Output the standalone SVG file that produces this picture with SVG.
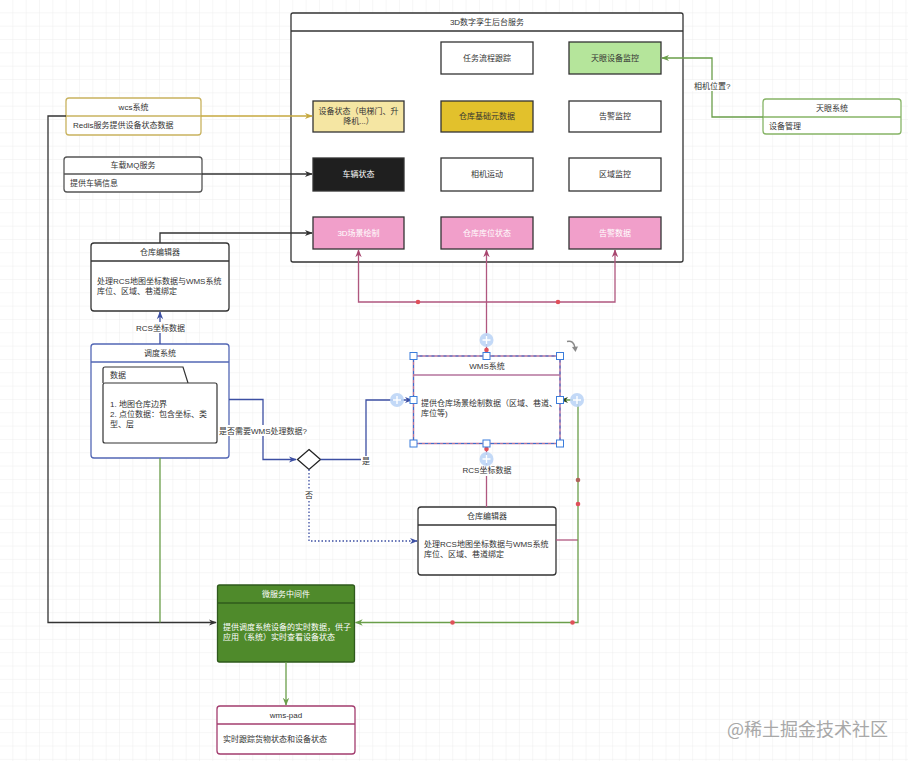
<svg xmlns="http://www.w3.org/2000/svg" width="908" height="761" viewBox="0 0 908 761">
<defs>
<pattern id="grid" width="13.33" height="13.33" patternUnits="userSpaceOnUse">
<path d="M13.33,0 V13.33 M0,13.33 H13.33" fill="none" stroke="#ebebeb" stroke-width="0.8"/>
</pattern>
<marker id="aK" viewBox="0 0 10 10" refX="9" refY="5" markerWidth="8" markerHeight="8" markerUnits="userSpaceOnUse" orient="auto"><path d="M0,1 L10,5 L0,9 L3,5 z" fill="#333"/></marker>
<marker id="aY" viewBox="0 0 10 10" refX="9" refY="5" markerWidth="8" markerHeight="8" markerUnits="userSpaceOnUse" orient="auto"><path d="M0,1 L10,5 L0,9 L3,5 z" fill="#c6a93f"/></marker>
<marker id="aG" viewBox="0 0 10 10" refX="9" refY="5" markerWidth="8" markerHeight="8" markerUnits="userSpaceOnUse" orient="auto"><path d="M0,1 L10,5 L0,9 L3,5 z" fill="#6a9e4a"/></marker>
<marker id="aGd" viewBox="0 0 10 10" refX="9" refY="5" markerWidth="8" markerHeight="8" markerUnits="userSpaceOnUse" orient="auto-start-reverse"><path d="M0,1 L10,5 L0,9 L3,5 z" fill="#2f4a22"/></marker>
<marker id="aB" viewBox="0 0 10 10" refX="9" refY="5" markerWidth="8" markerHeight="8" markerUnits="userSpaceOnUse" orient="auto"><path d="M0,1 L10,5 L0,9 L3,5 z" fill="#3c4fa3"/></marker>
<marker id="aP" viewBox="0 0 10 10" refX="9" refY="5" markerWidth="8" markerHeight="8" markerUnits="userSpaceOnUse" orient="auto"><path d="M0,1 L10,5 L0,9 L3,5 z" fill="#a8466f"/></marker>
<style>
.t{font-family:"Liberation Sans","Noto Sans CJK SC",sans-serif;font-size:8px;fill:#333}
.c{text-anchor:middle}
.w{fill:#fff}
.box{stroke:#333;stroke-width:1.3}
.e{fill:none;stroke-width:1.3}
.k{stroke:#333}
.y{stroke:#c6a93f}
.g{stroke:#6a9e4a}
.b{stroke:#3c4fa3}
.p{stroke:#b0577f}
.dot{fill:#e0505a}
.h{fill:#fff;stroke:#3b7ddb;stroke-width:1}
.plus{fill:#bcd5f6;opacity:0.9}
.pl{stroke:#fff;stroke-width:1.4}
.lbl{fill:#fff}
</style>
</defs>
<rect width="908" height="761" fill="#fff"/>
<rect width="908" height="761" fill="url(#grid)"/>

<!-- container -->
<g id="container">
<rect x="291" y="13" width="392" height="249" rx="2" fill="#fff" stroke="#333" stroke-width="1.3"/>
<line x1="291" y1="31" x2="683" y2="31" stroke="#333" stroke-width="1.3"/>
<text class="t c" x="487" y="25">3D数字孪生后台服务</text>
</g>
<g id="n-task"><rect class="box" x="441" y="42" width="92" height="32" fill="#fff"/><text class="t c" x="487" y="61">任务流程跟踪</text></g>
<g id="n-tianyan-mon"><rect class="box" x="569" y="42" width="92" height="32" fill="#b5e59b"/><text class="t c" x="615" y="61">天眼设备监控</text></g>
<g id="n-devstate"><rect class="box" x="313" y="101" width="91" height="31" fill="#f5e6a3" stroke="#555"/><text class="t c" x="358.5" y="114">设备状态（电梯门、升</text><text class="t c" x="358.5" y="124">降机...）</text></g>
<g id="n-meta"><rect class="box" x="441" y="101" width="92" height="31" fill="#e2c12c"/><text class="t c" x="487" y="119">仓库基础元数据</text></g>
<g id="n-alarm-mon"><rect class="box" x="569" y="101" width="92" height="31" fill="#fff"/><text class="t c" x="615" y="119">告警监控</text></g>
<g id="n-vehicle"><rect class="box" x="313" y="158" width="91" height="33" fill="#1f1f1f"/><text class="t c w" x="358.5" y="177">车辆状态</text></g>
<g id="n-camera"><rect class="box" x="441" y="158" width="92" height="33" fill="#fff"/><text class="t c" x="487" y="177">相机运动</text></g>
<g id="n-zone"><rect class="box" x="569" y="158" width="92" height="33" fill="#fff"/><text class="t c" x="615" y="177">区域监控</text></g>
<g id="n-3d"><rect class="box" x="313" y="217" width="91" height="32" fill="#f19fca"/><text class="t c w" x="358.5" y="236">3D场景绘制</text></g>
<g id="n-slot"><rect class="box" x="441" y="217" width="92" height="32" fill="#f19fca"/><text class="t c w" x="487" y="236">仓库库位状态</text></g>
<g id="n-alarm-data"><rect class="box" x="569" y="217" width="92" height="32" fill="#f19fca"/><text class="t c w" x="615" y="236">告警数据</text></g>

<!-- external nodes -->
<g id="n-wcs">
<rect x="66" y="98" width="135" height="37" rx="3" fill="#fff" stroke="#c9b35f" stroke-width="1.3"/>
<line x1="66" y1="116" x2="201" y2="116" stroke="#c9b35f" stroke-width="1.3"/>
<text class="t c" x="133.5" y="110">wcs系统</text>
<text class="t" x="73" y="128">Redis服务提供设备状态数据</text>
</g>
<g id="n-mq">
<rect x="64" y="157" width="138" height="35" rx="3" fill="#fff" stroke="#555" stroke-width="1.3"/>
<line x1="64" y1="174" x2="202" y2="174" stroke="#555" stroke-width="1.3"/>
<text class="t c" x="133" y="168">车载MQ服务</text>
<text class="t" x="70" y="186">提供车辆信息</text>
</g>
<g id="n-tianyan">
<rect x="763" y="99" width="138" height="35" rx="3" fill="#fff" stroke="#86b466" stroke-width="1.3"/>
<line x1="763" y1="117" x2="901" y2="117" stroke="#86b466" stroke-width="1.3"/>
<text class="t c" x="832" y="111">天眼系统</text>
<text class="t" x="769" y="129">设备管理</text>
</g>
<g id="n-editor1">
<rect x="91" y="243" width="138" height="68" rx="3" fill="#fff" stroke="#333" stroke-width="1.3"/>
<line x1="91" y1="261" x2="229" y2="261" stroke="#333" stroke-width="1.3"/>
<text class="t c" x="160" y="255">仓库编辑器</text>
<text class="t" x="97" y="284">处理RCS地图坐标数据与WMS系统</text>
<text class="t" x="97" y="294">库位、区域、巷道绑定</text>
</g>
<g id="n-dispatch">
<rect x="91" y="344" width="138" height="114" rx="3" fill="#fff" stroke="#5367b5" stroke-width="1.3"/>
<line x1="91" y1="362" x2="229" y2="362" stroke="#5367b5" stroke-width="1.3"/>
<text class="t c" x="160" y="356">调度系统</text>
<path d="M103,383 V369 Q103,367 105,367 H183 L188,383" fill="#fff" stroke="#333" stroke-width="1.2"/>
<rect x="103" y="383" width="114" height="60" rx="2" fill="#fff" stroke="#333" stroke-width="1.2"/>
<text class="t" x="110" y="378">数据</text>
<text class="t" x="110" y="407">1. 地图仓库边界</text>
<text class="t" x="110" y="417">2. 点位数据：包含坐标、类</text>
<text class="t" x="110" y="427">型、层</text>
</g>
<g id="n-decision">
<path d="M309,449.5 L320.5,459.5 L309,469.5 L297.5,459.5 Z" fill="#fff" stroke="#222" stroke-width="1.3"/>
</g>
<g id="n-wms">
<rect x="413.5" y="356" width="146.5" height="87.5" fill="#fff" stroke="#b5739d" stroke-width="1.5"/>
<line x1="413.5" y1="375" x2="560" y2="375" stroke="#b5739d" stroke-width="1.5"/>
<text class="t c" x="487" y="369">WMS系统</text>
<text class="t" x="421" y="406">提供仓库场景绘制数据（区域、巷道、</text>
<text class="t" x="421" y="416">库位等)</text>
</g>
<g id="n-editor2">
<rect x="418" y="507" width="138" height="68" rx="3" fill="#fff" stroke="#333" stroke-width="1.3"/>
<line x1="418" y1="525" x2="556" y2="525" stroke="#333" stroke-width="1.3"/>
<text class="t c" x="487" y="519">仓库编辑器</text>
<text class="t" x="424" y="547">处理RCS地图坐标数据与WMS系统</text>
<text class="t" x="424" y="557">库位、区域、巷道绑定</text>
</g>
<g id="n-middleware">
<rect x="217.5" y="585" width="137" height="77" rx="2" fill="#4f8a2b" stroke="#2f5a1c" stroke-width="1.3"/>
<line x1="217.5" y1="603" x2="354.5" y2="603" stroke="#2f5a1c" stroke-width="1.3"/>
<text class="t c w" x="286" y="597">微服务中间件</text>
<text class="t w" x="223" y="630">提供调度系统设备的实时数据，供子</text>
<text class="t w" x="223" y="640">应用（系统）实时查看设备状态</text>
</g>
<g id="n-pad">
<rect x="217" y="706" width="138" height="48" rx="3" fill="#fff" stroke="#a33c6e" stroke-width="1.3"/>
<line x1="217" y1="724" x2="355" y2="724" stroke="#a33c6e" stroke-width="1.3"/>
<text class="t c" x="286" y="718">wms-pad</text>
<text class="t" x="223" y="742">实时跟踪货物状态和设备状态</text>
</g>

<!-- connectors -->
<g id="connectors">
<path class="e y" d="M201,116 H312" marker-end="url(#aY)"/>
<path class="e k" d="M66,116 H48 V622.5 H216" marker-end="url(#aK)"/>
<path class="e k" d="M202,174 H312" marker-end="url(#aK)"/>
<path class="e k" d="M160,243 V233 H312" marker-end="url(#aK)"/>
<path class="e g" d="M763,117 H712 V58 H662" marker-end="url(#aG)"/>
<rect class="lbl" x="692" y="80" width="40" height="11"/>
<text class="t" x="694" y="89">相机位置?</text>
<path class="e b" d="M160,344 V312" marker-end="url(#aB)"/>
<rect class="lbl" x="136" y="322" width="49" height="11"/>
<text class="t c" x="160.5" y="331">RCS坐标数据</text>
<path class="e b" d="M229,399.5 H263 V459.5 H296" marker-end="url(#aB)"/>
<rect class="lbl" x="219" y="425" width="88" height="11"/>
<text class="t c" x="263" y="434">是否需要WMS处理数据?</text>
<path class="e b" d="M320.5,459.5 H366 V400 H412" marker-end="url(#aB)"/>
<rect class="lbl" x="361" y="456" width="10" height="10"/>
<text class="t c" x="366" y="464">是</text>
<path class="e b" d="M309,469.5 V541 H417" stroke-dasharray="1.5,2" marker-end="url(#aB)"/>
<rect class="lbl" x="304" y="490" width="10" height="10"/>
<text class="t c" x="309" y="498">否</text>
<path class="e p" d="M486.5,356 V250" marker-end="url(#aP)"/>
<path class="e p" d="M486.5,302 H358.5 V250" marker-end="url(#aP)"/>
<path class="e p" d="M486.5,302 H615 V250" marker-end="url(#aP)"/>
<circle class="dot" cx="418" cy="302" r="2.3"/>
<circle class="dot" cx="558" cy="302" r="2.3"/>
<path class="e p" d="M486.5,507 V444"/>
<rect class="lbl" x="462" y="465" width="50" height="11"/>
<text class="t c" x="487" y="473">RCS坐标数据</text>
<path class="e p" d="M556,540 H578" stroke-width="1.6"/>
<path class="e g" d="M561,400 H578 V622.5 H355.5" marker-start="url(#aGd)" marker-end="url(#aG)"/>
<circle cx="578" cy="480" r="2.3" fill="#b0645a"/>
<circle class="dot" cx="578" cy="504" r="2.3"/>
<circle class="dot" cx="452.5" cy="622.5" r="2.3"/>
<circle class="dot" cx="572.5" cy="622.5" r="2.3"/>
<path class="e g" d="M160,458 V622.5"/>
<path class="e g" d="M286,662 V705" marker-end="url(#aG)"/>
</g>

<!-- selection overlay on WMS -->
<g id="selection">
<rect x="413.5" y="356" width="146.5" height="87.5" fill="none" stroke="#3b6fd0" stroke-width="1" stroke-dasharray="3,3"/>
<circle class="dot" cx="486.5" cy="350" r="2.3"/>
<circle class="dot" cx="486.5" cy="449" r="2.3"/>
<circle class="plus" cx="486.5" cy="340" r="7"/><path class="pl" d="M482.5,340 H490.5 M486.5,336 V344"/>
<circle class="plus" cx="486.5" cy="459" r="7"/><path class="pl" d="M482.5,459 H490.5 M486.5,455 V463"/>
<circle class="plus" cx="397" cy="400" r="7"/><path class="pl" d="M393,400 H401 M397,396 V404"/>
<circle class="plus" cx="577" cy="400" r="7"/><path class="pl" d="M573,400 H581 M577,396 V404"/>
<rect class="h" x="410" y="352.5" width="7" height="7"/>
<rect class="h" x="483" y="352.5" width="7" height="7"/>
<rect class="h" x="556.5" y="352.5" width="7" height="7"/>
<rect class="h" x="410" y="396.5" width="7" height="7"/>
<rect class="h" x="556.5" y="396.5" width="7" height="7"/>
<rect class="h" x="410" y="440" width="7" height="7"/>
<rect class="h" x="483" y="440" width="7" height="7"/>
<rect class="h" x="556.5" y="440" width="7" height="7"/>
<path d="M567,341.5 Q574,340 575,348" fill="none" stroke="#8a8a8a" stroke-width="1.5"/>
<path d="M572,347 L575.5,352 L578,346.5 Z" fill="#8a8a8a"/>
</g>

<text x="727" y="736" font-family="'Noto Sans CJK SC','Liberation Sans',sans-serif" font-size="18" fill="#a8a8a8">@稀土掘金技术社区</text>
</svg>
